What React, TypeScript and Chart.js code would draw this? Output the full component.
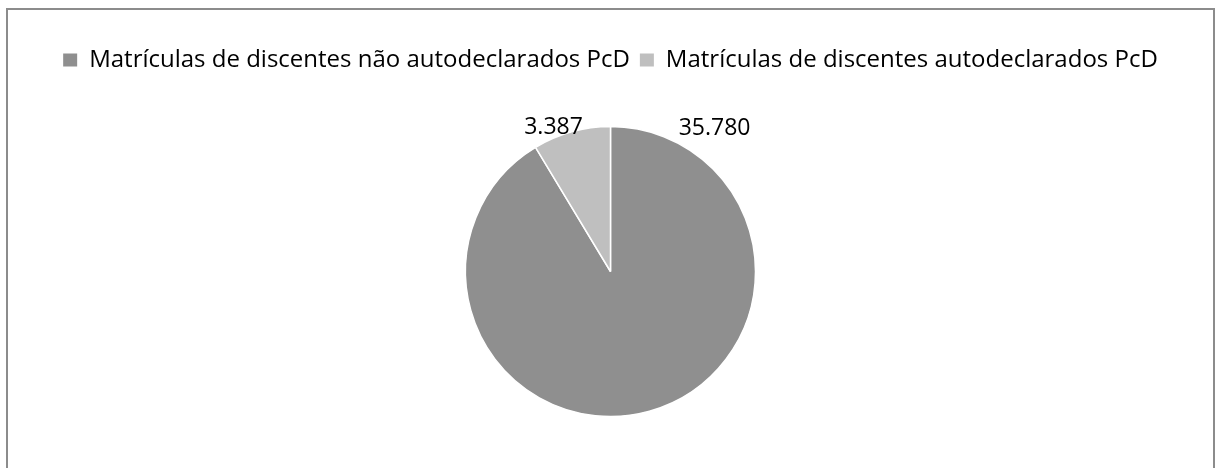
import React, { useEffect, useRef } from "react";
import { Chart, registerables } from "chart.js";

Chart.register(...registerables);

const categories = [
  "Matrículas de discentes não autodeclarados PcD",
  "Matrículas de discentes autodeclarados PcD",
];
const enrolments = [35780, 3387];
const sliceColors = ["#8f8f8f", "#bfbfbf"];

const FONT = "'Open Sans', 'Noto Sans', sans-serif";

function formatBR(n: number): string {
  return String(n).replace(/\B(?=(\d{3})+(?!\d))/g, ".");
}

const valueLabelPlugin = {
  id: "valueLabels",
  afterDatasetsDraw(chart: any) {
    const ctx = chart.ctx;
    const meta = chart.getDatasetMeta(0);
    ctx.save();
    ctx.font = `23px ${FONT}`;
    ctx.fillStyle = "#000000";
    ctx.textAlign = "center";
    ctx.textBaseline = "middle";
    meta.data.forEach((arc: any, i: number) => {
      const { x, y, outerRadius, startAngle, endAngle } = arc.getProps(
        ["x", "y", "outerRadius", "startAngle", "endAngle"],
        true
      );
      let ang: number;
      let dist: number;
      if (i === 0) {
        ang = startAngle + (36 * Math.PI) / 180;
        dist = outerRadius + 32;
      } else {
        ang = (startAngle + endAngle) / 2 - (6 * Math.PI) / 180;
        dist = outerRadius + 10;
      }
      const lx = x + Math.cos(ang) * dist;
      const ly = y + Math.sin(ang) * dist;
      ctx.fillText(formatBR(enrolments[i]), lx, ly);
    });
    ctx.restore();
  },
};

export default function App() {
  const canvasRef = useRef<HTMLCanvasElement | null>(null);

  useEffect(() => {
    if (!canvasRef.current) return;
    const baseGen = (Chart as any).overrides.pie.plugins.legend.labels.generateLabels;
    const chart = new Chart(canvasRef.current, {
      type: "pie",
      data: {
        labels: categories,
        datasets: [
          {
            data: enrolments,
            backgroundColor: sliceColors,
            borderColor: "#ffffff",
            borderWidth: 1.5,
            radius: 145,
          },
        ],
      },
      options: {
        animation: false,
        responsive: false,
        maintainAspectRatio: false,
        layout: { padding: { top: 38, bottom: 7, left: 4, right: 0 } },
        plugins: {
          legend: {
            display: true,
            position: "top",
            labels: {
              boxWidth: 14,
              boxHeight: 13,
              padding: 10,
              color: "#000000",
              font: { family: FONT, size: 24 },
              generateLabels: (c: any) =>
                baseGen(c).map((l: any) => ({
                  ...l,
                  lineWidth: 0,
                  strokeStyle: l.fillStyle,
                })),
            },
          },
          tooltip: { enabled: false },
        },
      },
      plugins: [valueLabelPlugin],
    });
    return () => chart.destroy();
  }, []);

  return (
    <div
      style={{
        position: "absolute",
        left: 0,
        top: 0,
        width: 1217,
        height: 468,
        overflow: "hidden",
        background: "#ffffff",
      }}
    >
      <canvas
        ref={canvasRef}
        width={1217}
        height={468}
        style={{ position: "absolute", left: 0, top: 0, width: 1217, height: 468 }}
      />
      <div
        style={{
          position: "absolute",
          left: 6,
          top: 8,
          width: 1209,
          height: 480,
          boxSizing: "border-box",
          border: "2px solid #8c8c8c",
          pointerEvents: "none",
        }}
      />
    </div>
  );
}
